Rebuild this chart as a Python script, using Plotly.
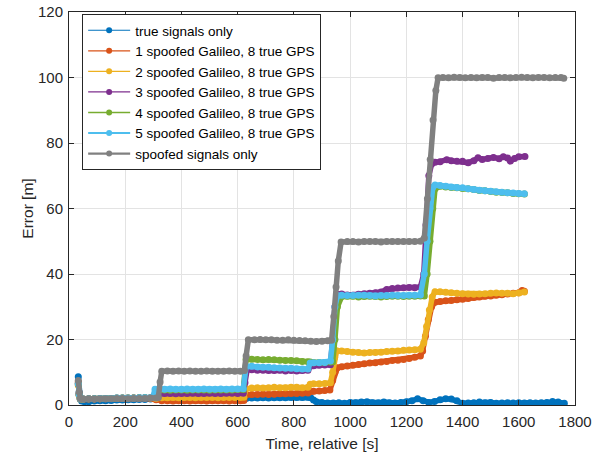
import plotly.graph_objects as go

# Positioning error over time for increasing numbers of spoofed Galileo satellites
series_names = [
    "true signals only",
    "1 spoofed Galileo, 8 true GPS",
    "2 spoofed Galileo, 8 true GPS",
    "3 spoofed Galileo, 8 true GPS",
    "4 spoofed Galileo, 8 true GPS",
    "5 spoofed Galileo, 8 true GPS",
    "spoofed signals only",
]
series_colors = ["#0072BD", "#D95319", "#EDB120", "#7E2F8E", "#77AC30", "#4DBEEE", "#808080"]
legend_widths = [1.2, 1.2, 1.2, 1.2, 1.6, 2.0, 2.2]

x_ticks = [0, 200, 400, 600, 800, 1000, 1200, 1400, 1600, 1800]
y_ticks = [0, 20, 40, 60, 80, 100, 120]

# true signals only
t_true = [33, 36, 40, 45, 55, 70, 90, 110, 130, 150, 170, 190, 210, 230, 250, 270, 290, 310,
          330, 350, 370, 390, 410, 430, 450, 470, 490, 510, 530, 550, 570, 590, 610, 630,
          650, 670, 690, 710, 730, 750, 770, 790, 810, 830, 850, 860, 870, 880, 900, 920,
          940, 960, 980, 1000, 1020, 1040, 1060, 1080, 1100, 1120, 1140, 1160, 1180, 1200,
          1220, 1240, 1260, 1280, 1300, 1320, 1340, 1360, 1380, 1400, 1420, 1440, 1460, 1480,
          1500, 1520, 1540, 1560, 1580, 1600, 1620, 1640, 1660, 1680, 1700, 1720, 1740, 1762]
e_true = [8.6, 3.8, 2.2, 1.2, 1.0, 1.0, 1.2, 1.3, 1.3, 1.4, 1.5, 1.5, 1.6, 1.6, 1.7, 1.7, 1.8, 1.8,
          1.9, 1.9, 2.0, 2.0, 2.0, 2.1, 2.1, 2.0, 2.1, 2.2, 2.2, 2.2, 2.1, 2.1, 2.0, 2.0,
          2.1, 2.1, 2.2, 2.1, 2.2, 2.2, 2.2, 2.3, 2.3, 2.3, 2.4, 2.2, 1.5, 1.0, 0.8, 0.6,
          0.6, 0.7, 0.5, 0.8, 0.7, 0.9, 1.0, 0.7, 0.7, 0.9, 0.7, 0.6, 0.8, 1.0,
          1.3, 1.9, 1.3, 0.8, 1.1, 1.6, 1.9, 1.8, 1.3, 0.5, 0.6, 0.7, 0.9, 0.7,
          0.8, 0.5, 0.6, 0.7, 0.6, 0.7, 0.6, 0.7, 0.6, 0.7, 0.8, 1.1, 0.9, 0.5]

# 1 spoofed Galileo, 8 true GPS
t_s1 = [33, 36, 40, 50, 70, 90, 110, 130, 150, 170, 190, 210, 230, 250, 270, 290, 310,
        330, 350, 370, 390, 410, 430, 450, 470, 490, 510, 530, 550, 570, 590, 610, 622,
        630, 650, 670, 690, 710, 730, 750, 770, 790, 810, 830, 850, 858, 870, 890, 910, 928,
        938, 946, 955, 970, 990, 1010, 1030, 1050, 1070, 1090, 1110, 1130, 1150, 1170, 1190,
        1210, 1230, 1250, 1258, 1268, 1278, 1290, 1302, 1320, 1340, 1360, 1380, 1400, 1420,
        1440, 1460, 1480, 1500, 1520, 1540, 1560, 1580, 1600, 1612, 1620]
e_s1 = [7.0, 3.4, 2.0, 1.7, 1.8, 1.8, 1.9, 1.9, 2.0, 2.0, 2.0, 2.0, 2.1, 2.1, 2.1, 2.0, 1.6,
        1.3, 1.3, 1.2, 1.3, 1.3, 1.2, 1.3, 1.3, 1.2, 1.3, 1.3, 1.3, 1.2, 1.3, 1.3, 1.4,
        3.1, 3.2, 3.2, 3.3, 3.2, 3.3, 3.4, 3.4, 3.5, 3.5, 3.6, 3.7, 4.1, 4.2, 4.3, 4.4, 4.6,
        7.5, 10.0, 11.4, 11.7, 11.9, 12.1, 12.4, 12.6, 12.8, 12.9, 13.1, 13.3, 13.6, 13.7, 13.9,
        14.2, 14.6, 15.0, 16.5, 21.0, 26.0, 30.0, 31.4, 31.6, 31.8, 31.9, 32.1, 32.3, 32.5,
        32.8, 33.0, 33.2, 33.3, 33.5, 33.7, 33.9, 34.1, 34.3, 35.0, 34.7]

# 2 spoofed Galileo, 8 true GPS
t_s2 = [33, 36, 40, 50, 70, 90, 110, 130, 150, 170, 190, 210, 230, 250, 270, 290, 310,
        330, 350, 370, 390, 410, 430, 450, 470, 490, 510, 530, 550, 570, 590, 610, 622,
        630, 650, 670, 690, 710, 730, 750, 770, 790, 810, 830, 850, 858, 870, 890, 910, 930,
        938, 945, 952, 970, 990, 1010, 1030, 1050, 1070, 1090, 1110, 1130, 1150, 1170, 1190,
        1210, 1230, 1250, 1262, 1272, 1282, 1292, 1302, 1320, 1340, 1360, 1380, 1400, 1420,
        1440, 1460, 1480, 1500, 1520, 1540, 1560, 1580, 1600, 1620]
e_s2 = [6.0, 3.0, 1.8, 1.8, 1.9, 1.9, 1.9, 2.0, 2.0, 2.0, 2.1, 2.1, 2.1, 2.1, 2.2, 2.1, 2.0,
        2.2, 2.2, 2.3, 2.2, 2.3, 2.3, 2.2, 2.3, 2.3, 2.3, 2.2, 2.3, 2.3, 2.3, 2.3, 2.4,
        5.0, 5.2, 5.3, 5.2, 5.3, 5.4, 5.3, 5.3, 5.4, 5.4, 5.3, 5.4, 6.3, 6.5, 6.5, 6.6, 6.8,
        10.0, 14.5, 16.6, 16.5, 16.3, 16.1, 16.0, 15.9, 16.0, 16.0, 16.1, 16.3, 16.4, 16.5, 16.7,
        16.8, 16.9, 17.0, 19.0, 24.0, 29.0, 33.0, 34.6, 34.6, 34.4, 34.3, 34.1, 34.0, 33.9,
        33.8, 33.9, 34.0, 34.1, 34.2, 34.1, 34.1, 34.0, 34.2, 34.5]

# 3 spoofed Galileo, 8 true GPS
t_s3 = [33, 36, 40, 50, 70, 90, 110, 130, 150, 170, 190, 210, 230, 250, 270, 290, 310,
        320, 340, 360, 380, 400, 420, 440, 460, 480, 500, 520, 540, 560, 580, 600, 620,
        626, 634, 650, 670, 690, 710, 730, 750, 770, 790, 810, 830, 850, 858, 870, 890, 910, 930,
        938, 946, 955, 970, 990, 1010, 1030, 1050, 1070, 1090, 1110, 1130, 1150, 1170, 1190,
        1210, 1230, 1250, 1262, 1270, 1280, 1290, 1302, 1320, 1344, 1360, 1380, 1400, 1420,
        1440, 1455, 1470, 1490, 1510, 1530, 1545, 1560, 1570, 1585, 1600, 1622]
e_s3 = [6.5, 3.2, 1.9, 1.8, 1.9, 1.9, 2.0, 2.0, 2.0, 2.1, 2.1, 2.1, 2.1, 2.2, 2.2, 2.2, 2.3,
        3.4, 3.5, 3.5, 3.4, 3.5, 3.5, 3.6, 3.5, 3.5, 3.6, 3.5, 3.5, 3.6, 3.6, 3.5, 3.6,
        6.8, 10.9, 10.8, 10.6, 10.6, 10.5, 10.5, 10.6, 10.4, 10.5, 10.4, 10.5, 10.6, 11.8, 12.0, 12.1, 12.2, 12.3,
        20.0, 30.0, 33.8, 33.9, 33.6, 33.5, 33.8, 34.0, 34.1, 34.3, 34.5, 35.3, 35.6, 35.7, 35.8,
        35.9, 35.8, 36.0, 40.0, 55.0, 70.0, 73.6, 74.1, 74.3, 74.9, 74.6, 74.4, 74.4, 74.0,
        74.6, 75.5, 75.0, 75.3, 75.6, 75.2, 75.8, 75.4, 74.5, 75.3, 75.8, 75.9]

# 4 spoofed Galileo, 8 true GPS
t_s4 = [33, 36, 40, 50, 70, 90, 110, 130, 150, 170, 190, 210, 230, 250, 270, 290, 310,
        320, 340, 360, 380, 400, 420, 440, 460, 480, 500, 520, 540, 560, 580, 600, 620,
        630, 650, 670, 690, 710, 730, 750, 770, 790, 810, 830, 850, 858, 870, 890, 910, 930,
        938, 946, 955, 970, 990, 1010, 1030, 1050, 1070, 1090, 1110, 1130, 1150, 1170, 1190,
        1210, 1230, 1250, 1264, 1274, 1284, 1294, 1302, 1320, 1340, 1360, 1380, 1400, 1420,
        1440, 1460, 1480, 1500, 1520, 1540, 1560, 1580, 1600, 1620]
e_s4 = [6.5, 3.2, 1.9, 1.8, 1.9, 1.9, 2.0, 2.0, 2.0, 2.1, 2.1, 2.1, 2.1, 2.2, 2.2, 2.2, 2.3,
        4.5, 4.6, 4.5, 4.6, 4.6, 4.5, 4.6, 4.6, 4.6, 4.5, 4.6, 4.6, 4.6, 4.6, 4.7, 4.7,
        14.0, 14.0, 13.9, 13.8, 13.9, 13.8, 13.7, 13.6, 13.6, 13.5, 13.3, 13.2, 13.1, 12.9, 13.0, 13.0, 13.1, 13.2,
        20.0, 30.0, 33.1, 33.2, 33.2, 33.0, 33.1, 33.2, 33.1, 33.0, 33.1, 33.2, 33.2, 33.1, 33.2,
        33.2, 33.3, 33.3, 40.0, 50.0, 60.0, 66.0, 66.8, 66.6, 66.4, 66.3, 66.1, 66.0, 65.8,
        65.5, 65.4, 65.2, 65.0, 64.9, 64.8, 64.6, 64.5, 64.4, 64.3]

# 5 spoofed Galileo, 8 true GPS
t_s5 = [33, 36, 40, 50, 70, 90, 110, 130, 150, 170, 190, 210, 230, 250, 270, 290, 298,
        306, 320, 340, 360, 380, 400, 420, 440, 460, 480, 500, 520, 540, 560, 580, 600, 620,
        630, 650, 670, 690, 710, 730, 750, 770, 790, 810, 830, 850, 858, 870, 890, 910, 930,
        938, 946, 955, 970, 990, 1010, 1030, 1050, 1070, 1090, 1110, 1130, 1150, 1170, 1190,
        1210, 1230, 1250, 1264, 1274, 1284, 1294, 1302, 1320, 1340, 1360, 1380, 1400, 1420,
        1440, 1460, 1480, 1500, 1520, 1540, 1560, 1580, 1600, 1620]
e_s5 = [6.5, 3.2, 1.9, 1.8, 1.9, 1.9, 2.0, 2.0, 2.0, 2.1, 2.1, 2.1, 2.1, 2.2, 2.2, 2.2, 2.4,
        4.8, 4.9, 4.8, 4.9, 4.8, 4.8, 4.9, 4.8, 4.8, 4.9, 4.8, 4.8, 4.9, 4.8, 4.9, 4.9, 5.0,
        11.8, 11.8, 11.6, 11.5, 11.5, 11.4, 11.3, 11.2, 11.2, 11.1, 11.0, 11.0, 12.8, 12.9, 12.9, 13.0, 13.4,
        20.0, 30.0, 33.4, 33.5, 33.4, 33.4, 33.5, 33.5, 33.4, 33.3, 33.4, 33.4, 33.5, 33.4, 33.4,
        33.5, 33.5, 33.6, 40.0, 50.0, 60.0, 66.5, 67.2, 67.0, 66.8, 66.6, 66.4, 66.3, 66.0,
        65.8, 65.6, 65.4, 65.3, 65.1, 65.0, 64.8, 64.7, 64.6, 64.5]

# spoofed signals only
t_spoof = [33, 36, 40, 50, 70, 90, 110, 130, 150, 170, 190, 210, 230, 250, 270, 290, 310, 318,
           324, 330, 350, 370, 390, 410, 430, 450, 470, 490, 510, 530, 550, 570, 590, 610, 624,
           630, 638, 660, 680, 700, 720, 740, 760, 780, 800, 820, 840, 860, 880, 900, 920, 934,
           942, 950, 958, 968, 990, 1010, 1030, 1050, 1070, 1090, 1110, 1130, 1150, 1170, 1190,
           1210, 1230, 1250, 1264, 1275, 1285, 1295, 1305, 1313, 1330, 1350, 1370, 1390, 1410,
           1430, 1450, 1470, 1490, 1510, 1530, 1550, 1570, 1590, 1610, 1630, 1650, 1670, 1690,
           1710, 1730, 1750, 1760]
e_spoof = [7.5, 4.0, 2.0, 1.8, 1.9, 1.8, 1.9, 1.9, 1.9, 2.0, 2.0, 1.9, 2.0, 2.0, 2.0, 2.1, 2.1, 2.3,
           7.0, 10.3, 10.4, 10.3, 10.4, 10.3, 10.4, 10.3, 10.3, 10.4, 10.3, 10.3, 10.3, 10.4, 10.3, 10.3, 10.5,
           15.0, 19.9, 19.9, 20.0, 19.9, 19.9, 19.8, 19.8, 19.9, 19.8, 19.7, 19.6, 19.5, 19.4, 19.5, 19.6, 19.8,
           27.0, 36.0, 44.0, 49.8, 49.9, 49.9, 49.8, 49.9, 49.9, 49.9, 49.8, 49.9, 49.9, 49.9, 49.9,
           49.9, 49.9, 50.0, 51.0, 63.0, 75.0, 87.0, 96.0, 99.9, 100.0, 99.9, 100.1, 100.0, 99.9,
           100.0, 99.9, 100.0, 100.0, 99.8, 100.0, 100.0, 99.9, 100.0, 100.1, 100.0, 99.9, 100.0, 100.0,
           99.9, 100.0, 100.0, 99.8]

times = [t_true, t_s1, t_s2, t_s3, t_s4, t_s5, t_spoof]
errors = [e_true, e_s1, e_s2, e_s3, e_s4, e_s5, e_spoof]

fig = go.Figure()

# Densely sampled curves drawn as thick bands
for name, color, t, e in zip(series_names, series_colors, times, errors):
    fig.add_trace(go.Scatter(
        x=t, y=e, mode="lines+markers", name=name, showlegend=False,
        line=dict(color=color, width=5.5),
        marker=dict(color=color, size=7),
    ))

# Legend keys with thin line and dot marker
for name, color, lw in zip(series_names, series_colors, legend_widths):
    fig.add_trace(go.Scatter(
        x=[None], y=[None], mode="lines+markers", name=name,
        line=dict(color=color, width=lw),
        marker=dict(color=color, size=6),
    ))

font_family = "Liberation Sans, Arial, sans-serif"
axis_style = dict(
    showgrid=True, gridcolor="#E3E3E3", gridwidth=1,
    showline=True, linecolor="#262626", linewidth=1, mirror="ticks",
    ticks="inside", ticklen=5, tickcolor="#262626", tickwidth=1,
    zeroline=False, automargin=False,
    tickfont=dict(family=font_family, size=15, color="#262626"),
)

fig.update_layout(
    width=602, height=453,
    margin=dict(l=69, r=27, t=12, b=48),
    paper_bgcolor="white", plot_bgcolor="white",
    font=dict(family=font_family, color="#262626"),
    xaxis=dict(
        range=[0, 1800], tickvals=x_ticks, ticklabelstandoff=3,
        title=dict(text="Time, relative [s]", font=dict(size=15.5, color="#262626"), standoff=9),
        **axis_style,
    ),
    yaxis=dict(
        range=[0, 120], tickvals=y_ticks, ticklabelstandoff=2,
        title=dict(text="Error [m]", font=dict(size=15.5, color="#262626"), standoff=0),
        **axis_style,
    ),
    legend=dict(
        x=0.026, y=0.995, xanchor="left", yanchor="top",
        bgcolor="white", bordercolor="#262626", borderwidth=1,
        font=dict(family=font_family, size=13.5, color="#000000"),
        tracegroupgap=0, itemwidth=42,
    ),
)

fig.write_html("out.html")
